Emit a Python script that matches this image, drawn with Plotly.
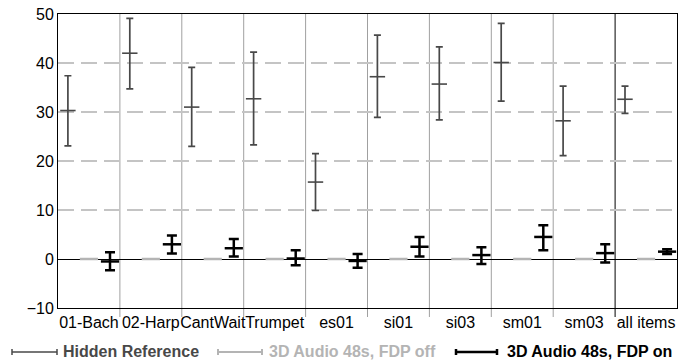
import plotly.graph_objects as go

categories = ["01-Bach", "02-Harp", "CantWait", "Trumpet", "es01",
              "si01", "si03", "sm01", "sm03", "all items"]

# Hidden Reference: mean, lower, upper
hr_mean = [30.3, 42.0, 31.0, 32.7, 15.7, 37.2, 35.7, 40.1, 28.2, 32.6]
hr_low = [23.1, 34.7, 23.0, 23.3, 9.9, 28.9, 28.4, 32.2, 21.1, 29.7]
hr_high = [37.4, 49.1, 39.1, 42.2, 21.5, 45.7, 43.3, 48.1, 35.3, 35.3]

# 3D Audio 48s, FDP off
off_mean = [0, 0, 0, 0, 0, 0, 0, 0, 0, 0]

# 3D Audio 48s, FDP on
on_mean = [-0.5, 3.0, 2.2, 0.1, -0.4, 2.5, 0.8, 4.5, 1.2, 1.5]
on_low = [-2.3, 1.1, 0.5, -1.3, -1.8, 0.5, -1.0, 1.8, -0.7, 1.0]
on_high = [1.4, 4.8, 4.1, 1.8, 1.0, 4.5, 2.4, 6.9, 3.0, 2.0]

series_names = ["Hidden Reference", "3D Audio 48s, FDP off", "3D Audio 48s, FDP on"]

FONT = "Liberation Sans, Arial, Helvetica, sans-serif"
C_HR = "#484848"
C_OFF = "#b4b4b4"
C_ON = "#000000"

idx = list(range(len(categories)))
fig = go.Figure()

fig.add_trace(go.Scatter(
    x=[i - 0.34 for i in idx], y=hr_mean, mode="markers", name=series_names[0],
    marker=dict(symbol="line-ew", size=11, line=dict(color=C_HR, width=1.6)),
    error_y=dict(type="data", symmetric=False,
                 array=[h - m for h, m in zip(hr_high, hr_mean)],
                 arrayminus=[m - l for m, l in zip(hr_mean, hr_low)],
                 color=C_HR, thickness=1.7, width=3.5),
    showlegend=False))

fig.add_trace(go.Scatter(
    x=[i for i in idx], y=off_mean, mode="markers", name=series_names[1],
    marker=dict(symbol="line-ew", size=13, line=dict(color=C_OFF, width=2.5)),
    showlegend=False))

fig.add_trace(go.Scatter(
    x=[i + 0.34 for i in idx], y=on_mean, mode="markers", name=series_names[2],
    marker=dict(symbol="line-ew", size=13, line=dict(color=C_ON, width=2.5)),
    error_y=dict(type="data", symmetric=False,
                 array=[h - m for h, m in zip(on_high, on_mean)],
                 arrayminus=[m - l for m, l in zip(on_mean, on_low)],
                 color=C_ON, thickness=2.5, width=5),
    showlegend=False))

W, H = 693, 364
L, R, T, B = 58, 16, 14, 56
pw, ph = W - L - R, H - T - B

def px(x):
    return (x - L) / pw

def py(y):
    return (H - B - y) / ph

shapes = []
# category boundary lines with outside ticks
for k in range(len(categories) - 1):
    shapes.append(dict(type="line", xref="x", yref="paper",
                       x0=k + 0.5, x1=k + 0.5, y0=-9 / ph, y1=1,
                       line=dict(color="#000000" if k == len(categories) - 2 else "#a0a0a0", width=1),
                       layer="below"))

# legend
legend_items = [
    (12, 57, 61, C_HR, 1.5, series_names[0]),
    (218, 262, 267, C_OFF, 2, series_names[1]),
    (456, 497, 505, C_ON, 2.5, series_names[2]),
]
annotations = []
ly = 352
for x0, x1, tx, col, w, name in legend_items:
    shapes.append(dict(type="line", xref="paper", yref="paper",
                       x0=px(x0), x1=px(x1), y0=py(ly), y1=py(ly),
                       line=dict(color=col, width=w)))
    for xe in (x0, x1):
        shapes.append(dict(type="line", xref="paper", yref="paper",
                           x0=px(xe), x1=px(xe), y0=py(ly - 3), y1=py(ly + 3),
                           line=dict(color=col, width=w)))
    annotations.append(dict(xref="paper", yref="paper", x=px(tx), y=py(ly - 1),
                            xanchor="left", yanchor="middle", showarrow=False,
                            text="<b>" + name + "</b>",
                            font=dict(family=FONT, size=16, color=col)))

fig.update_layout(
    width=W, height=H,
    margin=dict(l=L, r=R, t=T, b=B, autoexpand=False),
    paper_bgcolor="white", plot_bgcolor="white",
    font=dict(family=FONT, size=16, color="black"),
    shapes=shapes, annotations=annotations,
    xaxis=dict(range=[-0.5, len(categories) - 0.5], tickmode="array",
               tickvals=idx, ticktext=categories, ticks="", tickangle=0,
               automargin=False,
               showgrid=False, zeroline=False,
               showline=True, mirror=True, linecolor="#000000", linewidth=1,
               tickfont=dict(family=FONT, size=16, color="black")),
    yaxis=dict(range=[-10, 50], tickmode="array", tickvals=[-10, 0, 10, 20, 30, 40, 50],
               ticks="", showgrid=True, gridcolor="#c4c4c4", gridwidth=1.5,
               griddash="16px,7px", automargin=False,
               zeroline=True, zerolinecolor="#000000", zerolinewidth=1,
               showline=True, mirror=True, linecolor="#000000", linewidth=1,
               tickfont=dict(family=FONT, size=16, color="black")),
)

fig.write_html("out.html", config={"displayModeBar": False},
               post_script="document.body.style.margin='0';document.body.style.overflow='hidden';")
